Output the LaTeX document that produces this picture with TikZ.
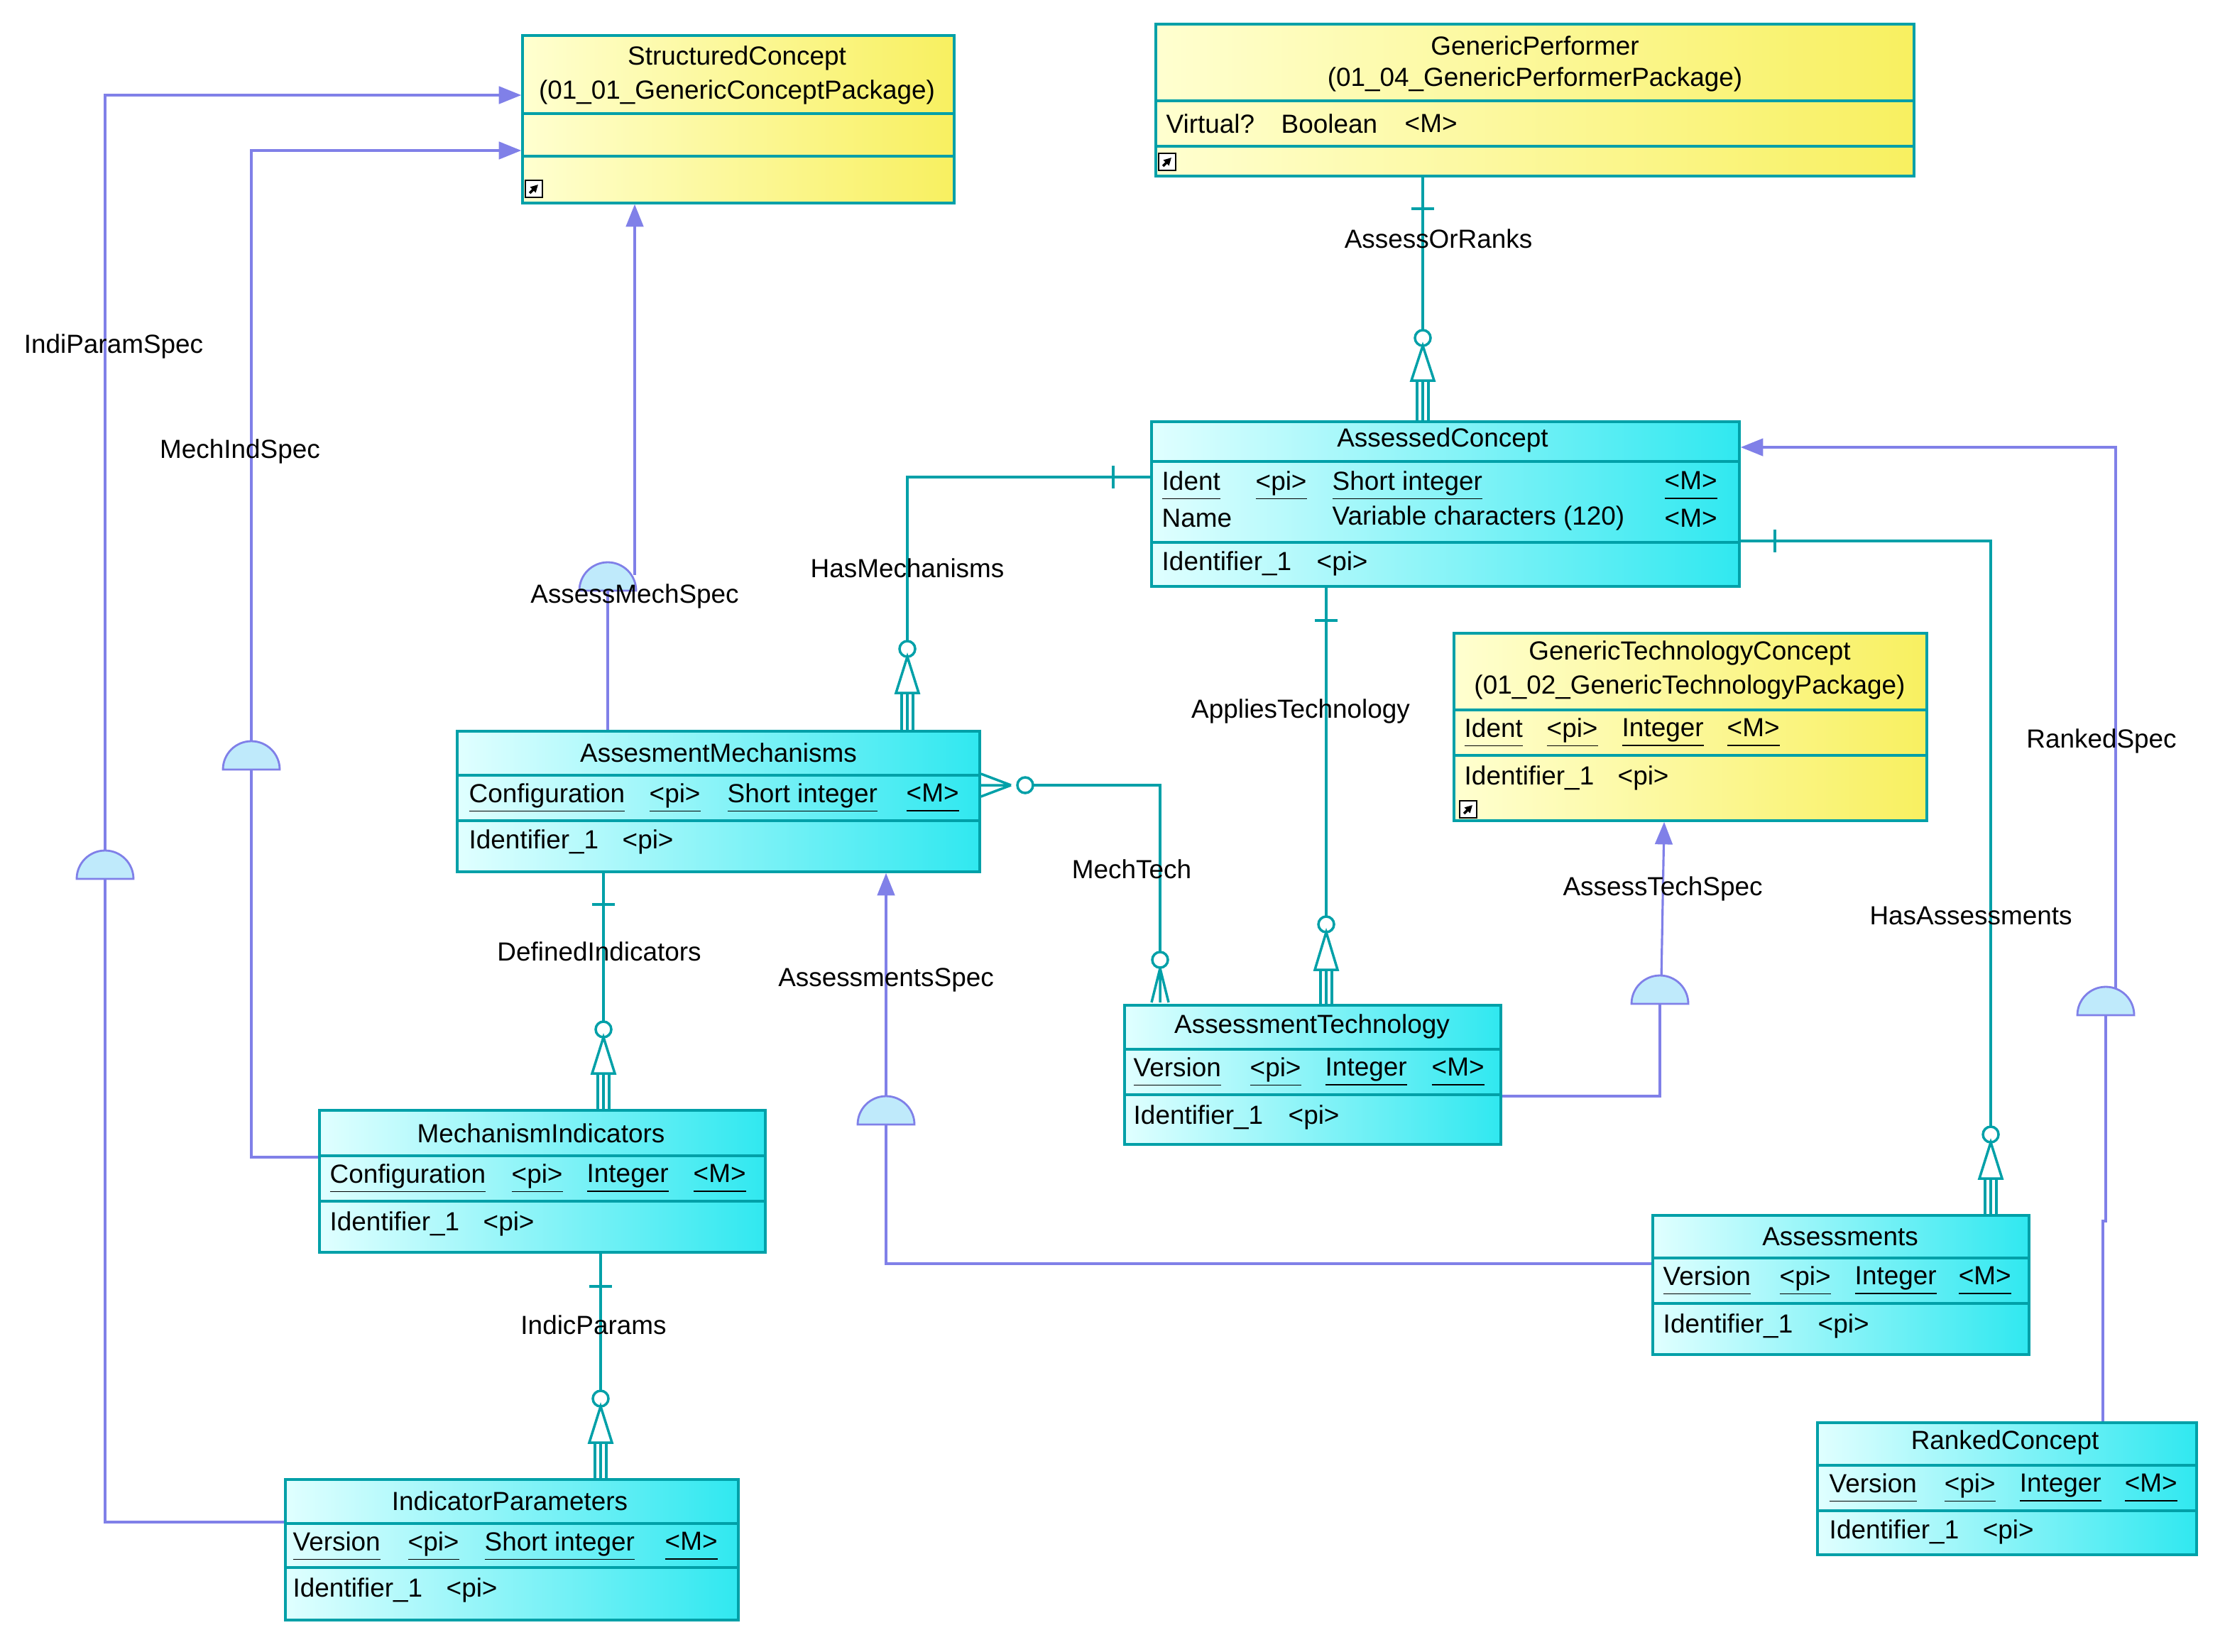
\documentclass[tikz,border=0pt]{standalone}
\usepackage{fontspec}
\setmainfont{Liberation Sans}
\usetikzlibrary{fit,arrows.meta}
\definecolor{teal1}{HTML}{00A0A8}
\definecolor{purp}{HTML}{8080E8}
\definecolor{cyl}{HTML}{E0FFFF}
\definecolor{cyd}{HTML}{30E8F0}
\definecolor{yel}{HTML}{FFFFD0}
\definecolor{yed}{HTML}{F8F060}
\tikzset{
 ent/.style={draw=teal1,line width=1pt,inner sep=0pt},
 cyan ent/.style={ent,left color=cyl,right color=cyd},
 yel ent/.style={ent,left color=yel,right color=yed},
 tx/.style={anchor=west,inner sep=0pt,font=\fontsize{10.5}{12}\selectfont},
 ttl/.style={anchor=center,inner sep=0pt,font=\fontsize{10.5}{12}\selectfont},
 lbl/.style={anchor=center,inner sep=1pt,font=\fontsize{10.5}{12}\selectfont},
 rel/.style={draw=teal1,line width=1pt},
 sub/.style={draw=purp,line width=0.9pt},
 arr/.style={sub,-{Triangle[length=9pt,width=7pt,fill=purp]}},
 dome/.style={draw=purp,line width=0.8pt,fill=cyan!25},
}
\newcommand\ul[1]{\underline{#1\vphantom{g}}}
\newcommand\mysep[3]{\draw[teal1,line width=1pt] (#1,#3) -- (#2,#3);}
\newcommand\crowv[4]{% x, ycircle, ytribase, ybox
 \draw[rel,fill=white] (#1,#2) circle[radius=5.5];
 \draw[rel] (#1,#2+5.5) -- (#1-8,#3) -- (#1+8,#3) -- cycle;
 \draw[rel] (#1-4,#3) -- (#1-4,#4) (#1,#3) -- (#1,#4) (#1+4,#3) -- (#1+4,#4);}
\newcommand\domeat[2]{\draw[dome] (#1-20,#2) arc[start angle=180,end angle=360,radius=20] -- cycle;}
\newcommand\icon[2]{\draw[black,fill=white,line width=0.6pt] (#1-6,#2-6) rectangle (#1+6,#2+6);
 \draw[black,line width=1pt,-{Triangle[length=3pt,width=3pt]}] (#1-3,#2+3) -- (#1+3,#2-3);}
\begin{document}
\begin{tikzpicture}[x=0.02cm,y=-0.02cm]
\useasboundingbox (0,0) rectangle (1567,1163);
% ---------- entities ----------
\node[yel ent,fit={(368,25)(672,143)}] (sc) {};
\mysep{368}{672}{80}\mysep{368}{672}{110}
\node[ttl] at (519,41) {StructuredConcept};
\node[ttl] at (519,65) {(01\_01\_GenericConceptPackage)};
\icon{376}{133}

\node[yel ent,fit={(814,17)(1348,124)}] (gp) {};
\mysep{814}{1348}{71}\mysep{814}{1348}{103}
\node[ttl] at (1081,32) {GenericPerformer};
\node[ttl] at (1081,56) {(01\_04\_GenericPerformerPackage)};
\node[tx] at (821,87) {Virtual?};\node[tx] at (902,87) {Boolean};\node[tx] at (989,87) {<M>};
\icon{822}{114}

\node[cyan ent,fit={(811,297)(1225,413)}] (ac) {};
\mysep{811}{1225}{325}\mysep{811}{1225}{382}
\node[ttl] at (1016,310) {AssessedConcept};
\node[tx] at (818,342) {\ul{Ident}};\node[tx] at (884,342) {\ul{<pi>}};\node[tx] at (938,342) {\ul{Short integer}};\node[tx] at (1172,342) {\ul{<M>}};
\node[tx] at (818,365) {Name};\node[tx] at (938,365) {Variable characters (120)};\node[tx] at (1172,365) {<M>};
\node[tx] at (818,397) {Identifier\_1};\node[tx] at (927,397) {<pi>};

\node[yel ent,fit={(1024,446)(1357,578)}] (gtc) {};
\mysep{1024}{1357}{500}\mysep{1024}{1357}{532}
\node[ttl] at (1190,460) {GenericTechnologyConcept};
\node[ttl] at (1190,484) {(01\_02\_GenericTechnologyPackage)};
\node[tx] at (1031,516) {\ul{Ident}};\node[tx] at (1089,516) {\ul{<pi>}};\node[tx] at (1142,516) {\ul{Integer}};\node[tx] at (1216,516) {\ul{<M>}};
\node[tx] at (1031,548) {Identifier\_1};\node[tx] at (1139,548) {<pi>};
\icon{1034}{570}

\node[cyan ent,fit={(322,515)(690,614)}] (am) {};
\mysep{322}{690}{546}\mysep{322}{690}{578}
\node[ttl] at (506,530) {AssesmentMechanisms};
\node[tx] at (330,562) {\ul{Configuration}};\node[tx] at (457,562) {\ul{<pi>}};\node[tx] at (512,562) {\ul{Short integer}};\node[tx] at (638,562) {\ul{<M>}};
\node[tx] at (330,593) {Identifier\_1};\node[tx] at (438,593) {<pi>};

\node[cyan ent,fit={(792,708)(1057,806)}] (at) {};
\mysep{792}{1057}{739}\mysep{792}{1057}{771}
\node[ttl] at (924,723) {AssessmentTechnology};
\node[tx] at (798,755) {\ul{Version}};\node[tx] at (880,755) {\ul{<pi>}};\node[tx] at (933,755) {\ul{Integer}};\node[tx] at (1008,755) {\ul{<M>}};
\node[tx] at (798,787) {Identifier\_1};\node[tx] at (907,787) {<pi>};

\node[cyan ent,fit={(225,782)(539,882)}] (mi) {};
\mysep{225}{539}{814}\mysep{225}{539}{846}
\node[ttl] at (381,798) {MechanismIndicators};
\node[tx] at (232,830) {\ul{Configuration}};\node[tx] at (360,830) {\ul{<pi>}};\node[tx] at (413,830) {\ul{Integer}};\node[tx] at (488,830) {\ul{<M>}};
\node[tx] at (232,862) {Identifier\_1};\node[tx] at (340,862) {<pi>};

\node[cyan ent,fit={(201,1042)(520,1141)}] (ip) {};
\mysep{201}{520}{1073}\mysep{201}{520}{1104}
\node[ttl] at (359,1057) {IndicatorParameters};
\node[tx] at (206,1089) {\ul{Version}};\node[tx] at (287,1089) {\ul{<pi>}};\node[tx] at (341,1089) {\ul{Short integer}};\node[tx] at (468,1089) {\ul{<M>}};
\node[tx] at (206,1120) {Identifier\_1};\node[tx] at (314,1120) {<pi>};

\node[cyan ent,fit={(1164,856)(1429,954)}] (as) {};
\mysep{1164}{1429}{886}\mysep{1164}{1429}{918}
\node[ttl] at (1296,871) {Assessments};
\node[tx] at (1171,902) {\ul{Version}};\node[tx] at (1253,902) {\ul{<pi>}};\node[tx] at (1306,902) {\ul{Integer}};\node[tx] at (1379,902) {\ul{<M>}};
\node[tx] at (1171,934) {Identifier\_1};\node[tx] at (1280,934) {<pi>};

\node[cyan ent,fit={(1280,1002)(1547,1095)}] (rc) {};
\mysep{1280}{1547}{1032}\mysep{1280}{1547}{1064}
\node[ttl] at (1412,1016) {RankedConcept};
\node[tx] at (1288,1048) {\ul{Version}};\node[tx] at (1369,1048) {\ul{<pi>}};\node[tx] at (1422,1048) {\ul{Integer}};\node[tx] at (1496,1048) {\ul{<M>}};
\node[tx] at (1288,1079) {Identifier\_1};\node[tx] at (1396,1079) {<pi>};

% ---------- purple (spec) links ----------
\coordinate (k1) at (74,1072); \coordinate (k2) at (74,67);
\draw[arr] (ip.west |- k1) -- (k1) -- (k2) -- (sc.west |- k2);
\domeat{74}{619}
\coordinate (m1) at (177,815); \coordinate (m2) at (177,106);
\draw[arr] (mi.west |- m1) -- (m1) -- (m2) -- (sc.west |- m2);
\domeat{177}{542}
\coordinate (q1) at (428,416); \coordinate (q2) at (447,405);
\draw[sub] (am.north -| q1) -- (q1);
\draw[arr] (q2) -- (sc.south -| q2);
\domeat{428}{416}
\coordinate (s1) at (624,890); \coordinate (s2) at (624,792);
\draw[arr] (as.west |- s1) -- (s1) -- (s2) -- (am.south -| s2);
\domeat{624}{792}
\coordinate (t1) at (1169,772); \coordinate (t2) at (1169,707); \coordinate (t3) at (1172,690);
\draw[sub] (at.east |- t1) -- (t1) -- (t2);
\draw[arr] (1170,690) -- (gtc.south -| t3);
\domeat{1169}{707}
\coordinate (r1) at (1481,860); \coordinate (r2) at (1483,860); \coordinate (r3) at (1490,700); \coordinate (r4) at (1490,315);
\draw[sub] (rc.north -| r1) -- (r1) -- (r2) -- (1483,715);
\draw[arr] (r3) -- (r4) -- (ac.east |- r4);
\domeat{1483}{715}

% ---------- teal relationships ----------
\coordinate (a1) at (1002,0);
\draw[rel] (gp.south -| a1) -- (1002,244);
\draw[rel] (994,147) -- (1010,147);
\crowv{1002}{238}{268}{297}
\coordinate (h1) at (639,336);
\draw[rel] (ac.west |- h1) -- (h1) -- (639,452);
\draw[rel] (784,328) -- (784,344);
\crowv{639}{457}{488}{515}
\coordinate (p1) at (934,0);
\draw[rel] (ac.south -| p1) -- (934,646);
\draw[rel] (926,437) -- (942,437);
\crowv{934}{651}{683}{708}
\coordinate (e1) at (1402,381);
\draw[rel] (ac.east |- e1) -- (e1) -- (1402,794);
\draw[rel] (1250,373) -- (1250,389);
\crowv{1402}{799}{830}{856}
\coordinate (d1) at (425,0);
\draw[rel] (am.south -| d1) -- (425,720);
\draw[rel] (417,637) -- (433,637);
\crowv{425}{725}{756}{782}
\coordinate (i1) at (423,0);
\draw[rel] (mi.south -| i1) -- (423,980);
\draw[rel] (415,906) -- (431,906);
\crowv{423}{985}{1016}{1042}
\coordinate (c1) at (817,553);
\draw[rel] (728,553) -- (c1) -- (817,671);
\draw[rel] (am.east |- 0,545) -- (712,553) (am.east |- 0,553) -- (712,553) (am.east |- 0,561) -- (712,553);
\draw[rel,fill=white] (722,553) circle[radius=5.5];
\draw[rel,fill=white] (817,676) circle[radius=5.5];
\draw[rel] (817,682) -- (811,706) (817,682) -- (817,706) (817,682) -- (823,706);

% ---------- labels ----------
\node[lbl] at (1013,168) {AssessOrRanks};
\node[lbl] at (639,400) {HasMechanisms};
\node[lbl] at (447,420) {AssessMechSpec};
\node[lbl] at (916,501) {AppliesTechnology};
\node[lbl] at (797,612) {MechTech};
\node[lbl] at (1171,626) {AssessTechSpec};
\node[lbl] at (1388,645) {HasAssessments};
\node[lbl] at (1480,522) {RankedSpec};
\node[lbl] at (422,670) {DefinedIndicators};
\node[lbl] at (624,690) {AssessmentsSpec};
\node[lbl] at (418,933) {IndicParams};
\node[lbl] at (80,244) {IndiParamSpec};
\node[lbl] at (169,318) {MechIndSpec};
\end{tikzpicture}
\end{document}
